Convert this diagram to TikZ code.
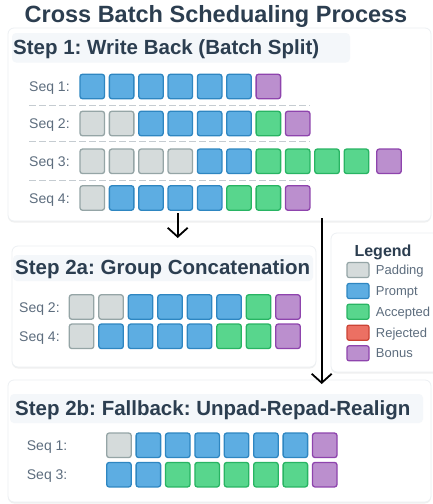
\documentclass[tikz,border=0pt]{standalone}
\usepackage{fontspec}
\setmainfont{Liberation Sans}
\frenchspacing
\usetikzlibrary{arrows.meta,shadows}
\definecolor{titlec}{HTML}{2C3E50}
\definecolor{labc}{HTML}{5D6D7E}
\definecolor{padf}{HTML}{D5DBDB}\definecolor{padd}{HTML}{95A5A6}
\definecolor{prmf}{HTML}{5DADE2}\definecolor{prmd}{HTML}{2E86C1}
\definecolor{accf}{HTML}{58D68D}\definecolor{accd}{HTML}{28B463}
\definecolor{rejf}{HTML}{EC7063}\definecolor{rejd}{HTML}{CB4335}
\definecolor{bonf}{HTML}{BB8FCE}\definecolor{bond}{HTML}{8E44AD}
\definecolor{panelb}{HTML}{EDF0F3}
\definecolor{bandf}{HTML}{F4F7FA}
\definecolor{dashc}{HTML}{C5CCD1}
\begin{document}
\begin{tikzpicture}[x=1pt,y=-1pt,
  cell/.style={minimum width=24.5pt,minimum height=24.5pt,inner sep=0pt,rounded corners=2.5pt,line width=1.3pt},
  pad/.style={cell,fill=padf,draw=padd},
  prm/.style={cell,fill=prmf,draw=prmd},
  acc/.style={cell,fill=accf,draw=accd},
  rej/.style={cell,fill=rejf,draw=rejd},
  bon/.style={cell,fill=bonf,draw=bond},
  lcell/.style={minimum width=22pt,minimum height=15pt,inner sep=0pt,rounded corners=2pt,line width=1.2pt},
  panel/.style={draw=panelb,line width=0.8pt,fill=white,rounded corners=6pt,
    drop shadow={shadow xshift=0pt,shadow yshift=-1.5pt,opacity=0.06,fill=black}},
  band/.style={fill=bandf,rounded corners=4pt},
  head/.style={font=\bfseries\fontsize{20.5}{24}\selectfont,text=titlec,anchor=base west,inner sep=0pt},
  seqlab/.style={font=\fontsize{14}{16}\selectfont,text=labc,anchor=base west,inner sep=0pt},
  leglab/.style={font=\fontsize{13}{15}\selectfont,text=labc,anchor=base west,inner sep=0pt},
  flow/.style={line width=1.8pt,black,-{Straight Barb[length=9pt,width=20pt,line width=1.8pt]}},
  sep/.style={dashc,line width=1pt,dash pattern=on 6.5pt off 3.5pt}
]
\useasboundingbox (0,0) rectangle (433,504);
\fill[white] (0,0) rectangle (433,504);

% title
\node[font=\bfseries\fontsize{23.5}{27}\selectfont,text=titlec,anchor=base,inner sep=0pt] (title) at (216,22) {Cross Batch Schedualing Process};

% ---------- Step 1 panel
\draw[panel] (8,28) rectangle (431,221);
\fill[band] (12,33) rectangle (350,62.5);
\node[head] (h1) at (13,54.5) {Step 1: Write Back (Batch Split)};

\node[seqlab] (l11) at (29,91.5) {Seq 1:};
\node[seqlab] (l12) at (29,128.5) {Seq 2:};
\node[seqlab] (l13) at (29,166.3) {Seq 3:};
\node[seqlab] (l14) at (29,203) {Seq 4:};

\foreach \t [count=\i] in {prm,prm,prm,prm,prm,prm,bon}
  \node[\t] (a1c\i) at ({92.25+(\i-1)*29.35},86.5) {};
\foreach \t [count=\i] in {pad,pad,prm,prm,prm,prm,acc,bon}
  \node[\t] (a2c\i) at ({92.25+(\i-1)*29.35},123.5) {};
\foreach \t/\x [count=\i] in {pad/0,pad/1,pad/2,pad/3,prm/4,prm/5,acc/6,acc/7,acc/8,acc/9,bon/10.11}
  \node[\t] (a3c\i) at ({92.25+\x*29.35},161.3) {};
\foreach \t [count=\i] in {pad,prm,prm,prm,prm,acc,acc,bon}
  \node[\t] (a4c\i) at ({92.25+(\i-1)*29.35},198) {};

\draw[sep] (29,105.3) -- (310,105.3);
\draw[sep] (29,141.7) -- (310,141.7);
\draw[sep] (29,180.7) -- (310,180.7);

% ---------- Legend
\draw[panel] (331,233) rectangle (440,372);
\node[font=\bfseries\fontsize{16}{19}\selectfont,text=titlec,anchor=base,inner sep=0pt] (legt) at (383,256.5) {Legend};
\node[lcell,fill=padf,draw=padd] (lg1) at (358,270) {};
\node[lcell,fill=prmf,draw=prmd] (lg2) at (358,291) {};
\node[lcell,fill=accf,draw=accd] (lg3) at (358,311.7) {};
\node[lcell,fill=rejf,draw=rejd] (lg4) at (358,332.7) {};
\node[lcell,fill=bonf,draw=bond] (lg5) at (358,353.3) {};
\node[leglab] (lt1) at (375.7,274.6) {Padding};
\node[leglab] (lt2) at (375.7,295.6) {Prompt};
\node[leglab] (lt3) at (375.7,316.3) {Accepted};
\node[leglab] (lt4) at (375.7,337.3) {Rejected};
\node[leglab] (lt5) at (375.7,357.9) {Bonus};

% ---------- Step 2a panel
\draw[panel] (12,246) rectangle (316,367);
\fill[band] (13,255) rectangle (313,281);
\node[head] (h2) at (15,274.3) {Step 2a: Group Concatenation};
\node[seqlab] (l21) at (19,312) {Seq 2:};
\node[seqlab] (l22) at (19,341.3) {Seq 4:};
\foreach \t [count=\i] in {pad,pad,prm,prm,prm,prm,acc,bon}
  \node[\t] (b1c\i) at ({81.55+(\i-1)*29.5},307) {};
\foreach \t [count=\i] in {pad,prm,prm,prm,prm,acc,acc,bon}
  \node[\t] (b2c\i) at ({81.55+(\i-1)*29.5},336.3) {};

% ---------- Step 2b panel
\draw[panel] (8,380) rectangle (431,502);
\fill[band] (10,394) rectangle (423,423);
\node[head] (h3) at (15,415) {Step 2b: Fallback: Unpad-Repad-Realign};
\node[seqlab] (l31) at (26.7,450.3) {Seq 1:};
\node[seqlab] (l32) at (26.7,479.7) {Seq 3:};
\foreach \t [count=\i] in {pad,prm,prm,prm,prm,prm,prm,bon}
  \node[\t] (c1c\i) at ({118.95+(\i-1)*29.4},445.3) {};
\foreach \t [count=\i] in {prm,prm,acc,acc,acc,acc,acc,bon}
  \node[\t] (c2c\i) at ({118.95+(\i-1)*29.4},474.7) {};

% ---------- arrows
\coordinate (f1s) at (177.7,213);
\coordinate (f1e) at (177.7,238);
\coordinate (f2s) at (321.7,218);
\coordinate (f2e) at (321.7,384);
\draw[flow] (f1s) -- (f1e);
\draw[flow] (f2s) -- (f2e);
\end{tikzpicture}
\end{document}
